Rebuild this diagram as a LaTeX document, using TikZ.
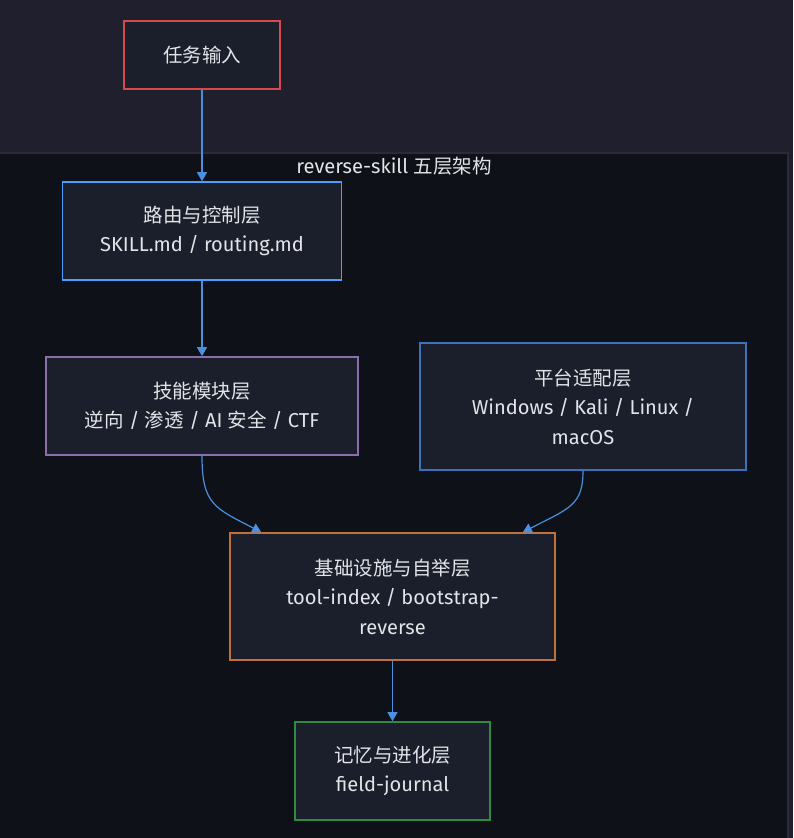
\documentclass[tikz,border=0pt]{standalone}
\usepackage{fontspec}
\setmainfont{Fira Sans}[Scale=1.03]
\newfontfamily\cjk{Noto Sans CJK SC}
\usetikzlibrary{arrows.meta,calc}
\definecolor{topbg}{HTML}{201F2E}
\definecolor{clbg}{HTML}{0E1117}
\definecolor{clborder}{HTML}{2A2A38}
\definecolor{nodefill}{HTML}{1A1F2B}
\definecolor{txt}{HTML}{E2E4E8}
\definecolor{cred}{HTML}{D9484A}
\definecolor{cblue}{HTML}{4A9EFF}
\definecolor{cpurple}{HTML}{8A6FA8}
\definecolor{cblue2}{HTML}{3A72BC}
\definecolor{corange}{HTML}{C0703A}
\definecolor{cgreen}{HTML}{2E8B40}
\definecolor{arrowc}{HTML}{4A90E0}
\tikzset{
  layer/.style={draw, line width=1.6pt, fill=nodefill, text=txt, align=center,
    inner sep=0pt, font=\fontsize{19.5}{29.5}\selectfont},
  flow/.style={draw=arrowc, line width=1.2pt, -{Triangle[length=9pt,width=10pt]}},
}
\begin{document}
\begin{tikzpicture}[x=1pt,y=-1pt]
\useasboundingbox (0,0) rectangle (793,838);
\fill[topbg] (0,0) rectangle (793,838);
\filldraw[fill=clbg, draw=clborder, line width=1.5pt] (-2,153) rectangle (788,845);
\node[text=txt, font=\fontsize{19.5}{29.5}\selectfont] (title) at (394,166) {reverse-skill {\cjk 五层架构}};

\node[layer, draw=cred, minimum width=156, minimum height=68] (in) at (202,55) {{\cjk 任务输入}};
\node[layer, draw=cblue, minimum width=279, minimum height=98] (route) at (202,231)
  {{\cjk 路由与控制层}\\SKILL.md / routing.md};
\node[layer, draw=cpurple, minimum width=312, minimum height=98] (skill) at (202,406)
  {{\cjk 技能模块层}\\{\cjk 逆向} / {\cjk 渗透} / AI {\cjk 安全} / CTF};
\node[layer, draw=cblue2, minimum width=326, minimum height=127] (plat) at (583,406.5)
  {{\cjk 平台适配层}\\Windows / Kali / Linux /\\macOS};
\node[layer, draw=corange, minimum width=325, minimum height=127] (infra) at (392.5,596.5)
  {{\cjk 基础设施与自举层}\\tool-index / bootstrap-\\reverse};
\node[layer, draw=cgreen, minimum width=195, minimum height=98] (mem) at (392.5,771)
  {{\cjk 记忆与进化层}\\field-journal};

\coordinate (infraL) at ($(infra.north west)+(32,0)$);
\coordinate (infraR) at ($(infra.north east)+(-33,0)$);

\draw[flow] (in) -- (route);
\draw[flow] (route) -- (skill);
\draw[flow] (skill.south) .. controls (202,505) and (215,508) .. (infraL);
\draw[flow] (plat.south) .. controls (583,505) and (570,508) .. (infraR);
\draw[flow] (infra) -- (mem);
\end{tikzpicture}
\end{document}
